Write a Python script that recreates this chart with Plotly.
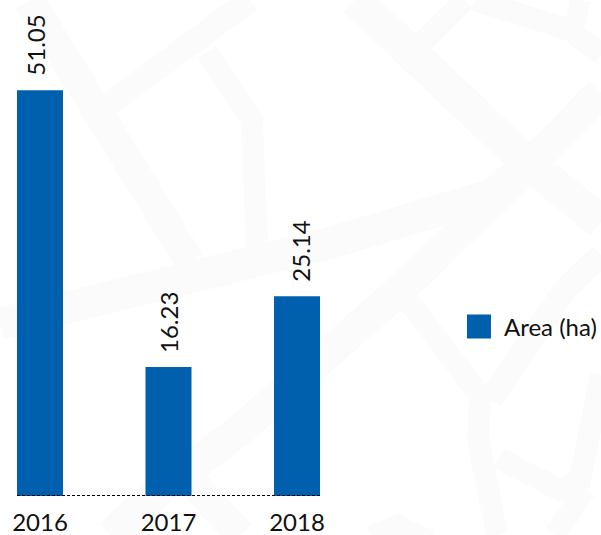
import plotly.graph_objects as go

years = ["2016", "2017", "2018"]
area_ha = [51.05, 16.23, 25.14]
label_nudge = [-4, 0, 4]
BLUE = "#0060ae"
FONT = "Lato, sans-serif"
INK = "#111111"
BAND = "#fbfbfb"

# faint street-map watermark behind the chart: (width, polyline in window pixels)
streets = [
    (30, [(29, 0), (190, 262)]),
    (24, [(105, 107), (250, 0)]),
    (22, [(207, 52), (252, 120), (257, 245)]),
    (32, [(0, 324), (330, 243), (490, 195), (525, 168)]),
    (34, [(355, 0), (530, 165), (601, 222)]),
    (32, [(601, 92), (530, 165), (400, 290), (240, 430), (160, 490), (110, 535)]),
    (30, [(195, 485), (240, 535)]),
    (22, [(420, 45), (465, 0)]),
    (22, [(475, 0), (500, 8), (570, 30), (601, 55)]),
    (20, [(575, 25), (580, 0)]),
    (24, [(601, 255), (565, 290), (490, 400)]),
    (22, [(400, 290), (480, 395), (478, 440), (497, 535)]),
    (22, [(498, 458), (560, 490), (580, 480), (601, 375)]),
    (22, [(585, 490), (555, 535)]),
    (20, [(370, 535), (398, 525), (430, 540)]),
]

L, T, W, H = 17, 0, 303, 496
def px(x): return (x - L) / W
def py(y): return (T + H - y) / H

shapes = []
for width, pts in streets:
    d = "M" + " L".join(f"{px(x):.4f},{py(y):.4f}" for x, y in pts)
    shapes.append(dict(type="path", xref="paper", yref="paper", path=d, layer="below",
                       line=dict(color=BAND, width=width), fillcolor="rgba(0,0,0,0)"))
shapes.append(dict(type="line", xref="paper", yref="y", x0=0, x1=1, y0=0, y1=0,
                   line=dict(color="#000000", width=2, dash="3px,2px"), layer="above"))

fig = go.Figure(go.Bar(
    x=years, y=area_ha, name="Area (ha)", width=0.358,
    marker=dict(color=BLUE, line=dict(width=0)),
    cliponaxis=False, showlegend=True, hoverinfo="skip",
))
annotations = [
    dict(x=i, y=v, xref="x", yref="y", text=f"{v:.2f}", textangle=-90, showarrow=False,
         yanchor="bottom", xanchor="center", yshift=12, xshift=nudge,
         font=dict(family=FONT, size=24, color=INK))
    for i, (v, nudge) in enumerate(zip(area_ha, label_nudge))
]
fig.update_layout(
    width=601, height=535, autosize=False,
    margin=dict(l=L, r=601 - L - W, t=T, b=535 - H, pad=0),
    paper_bgcolor="white", plot_bgcolor="rgba(0,0,0,0)",
    xaxis=dict(type="category", range=[-0.179, 2.179], showgrid=False, showline=False,
               ticks="", ticklabelstandoff=10,
               tickfont=dict(family=FONT, size=24, color=INK)),
    yaxis=dict(range=[0, 62.39], visible=False),
    legend=dict(xref="container", yref="container", x=0.772, y=0.3888,
                xanchor="left", yanchor="middle", itemwidth=30,
                font=dict(family=FONT, size=24, color=INK), bgcolor="rgba(0,0,0,0)"),
    shapes=shapes, annotations=annotations,
)
post = """
document.documentElement.style.overflow='hidden';
document.body.style.margin='0';
document.querySelectorAll('.legendbar path, .legendpoints path').forEach(function(p){
  p.setAttribute('transform','translate(15,0) scale(2)');
});
"""
fig.write_html("out.html", post_script=post, config=dict(displayModeBar=False))
